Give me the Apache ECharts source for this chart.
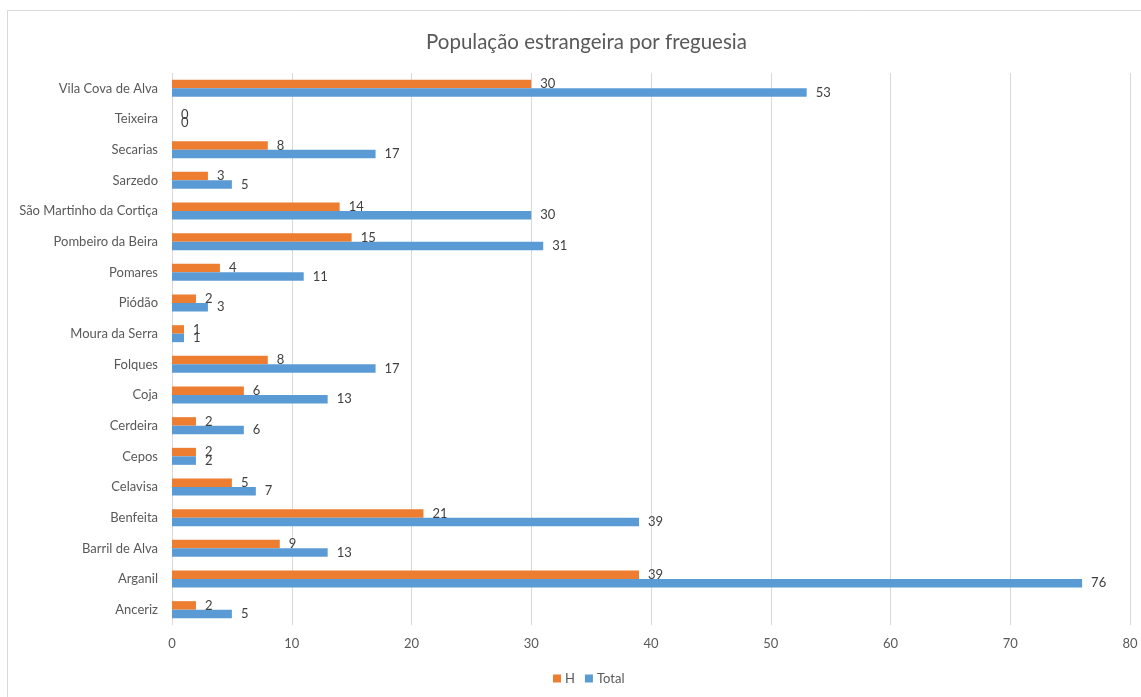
<!DOCTYPE html>
<html>
<head>
<meta charset="utf-8">
<script src="https://cdn.jsdelivr.net/npm/echarts@6/dist/echarts.min.js"></script>
<style>
  html, body { margin: 0; padding: 0; background: #fff; }
  #chart { width: 1141px; height: 697px; }
</style>
</head>
<body>
<div id="chart"></div>
<script>
// Freguesias, listed bottom to top along the category axis
const freguesias = [
  'Anceriz', 'Arganil', 'Barril de Alva', 'Benfeita', 'Celavisa', 'Cepos',
  'Cerdeira', 'Coja', 'Folques', 'Moura da Serra', 'Piódão', 'Pomares',
  'Pombeiro da Beira', 'São Martinho da Cortiça', 'Sarzedo', 'Secarias',
  'Teixeira', 'Vila Cova de Alva'
];
const homens = [2, 39, 9, 21, 5, 2, 2, 6, 8, 1, 2, 4, 15, 14, 3, 8, 0, 30];
const total  = [5, 76, 13, 39, 7, 2, 6, 13, 17, 1, 3, 11, 31, 30, 5, 17, 0, 53];
const xTicks = { min: 0, max: 80, interval: 10 };

const FONT = 'Lato, "Open Sans", sans-serif';
const chart = echarts.init(document.getElementById('chart'));

const labelStyle = {
  show: true,
  position: 'right',
  distance: 9,
  color: '#404040',
  fontSize: 13,
  fontFamily: FONT
};

chart.setOption({
  animation: false,
  backgroundColor: '#ffffff',
  graphic: [{
    type: 'rect',
    shape: { x: 7.5, y: 10.5, width: 1200, height: 800 },
    style: { fill: 'none', stroke: '#d9d9d9', lineWidth: 1 },
    silent: true
  }],
  title: {
    text: 'População estrangeira por freguesia',
    left: 421,
    top: 27,
    textStyle: { color: '#595959', fontSize: 20.5, fontWeight: 'normal', fontFamily: FONT }
  },
  legend: {
    data: ['H', 'Total'],
    bottom: 7,
    left: 548,
    itemWidth: 8,
    itemHeight: 8,
    itemGap: 10,
    icon: 'rect',
    textStyle: { color: '#595959', fontSize: 13, fontFamily: FONT, padding: [0, 0, 0, -1] }
  },
  grid: { left: 172, right: 11, top: 73, bottom: 72, containLabel: false },
  xAxis: {
    type: 'value',
    min: xTicks.min,
    max: xTicks.max,
    interval: xTicks.interval,
    axisLine: { show: false },
    axisTick: { show: false },
    axisLabel: { color: '#595959', fontSize: 13, fontFamily: FONT, margin: 12 },
    splitLine: { lineStyle: { color: '#d9d9d9', width: 1 } }
  },
  yAxis: {
    type: 'category',
    data: freguesias,
    axisLine: { show: false },
    axisTick: { show: false },
    axisLabel: { color: '#595959', fontSize: 13, fontFamily: FONT, margin: 14 }
  },
  series: [
    {
      name: 'H',
      type: 'bar',
      data: homens,
      barWidth: 8.5,
      barGap: '0%',
      itemStyle: { color: '#ed7d31' },
      label: labelStyle
    },
    {
      name: 'Total',
      type: 'bar',
      data: total,
      barWidth: 8.5,
      barGap: '0%',
      itemStyle: { color: '#5b9bd5' },
      label: labelStyle
    }
  ]
});
</script>
</body>
</html>
